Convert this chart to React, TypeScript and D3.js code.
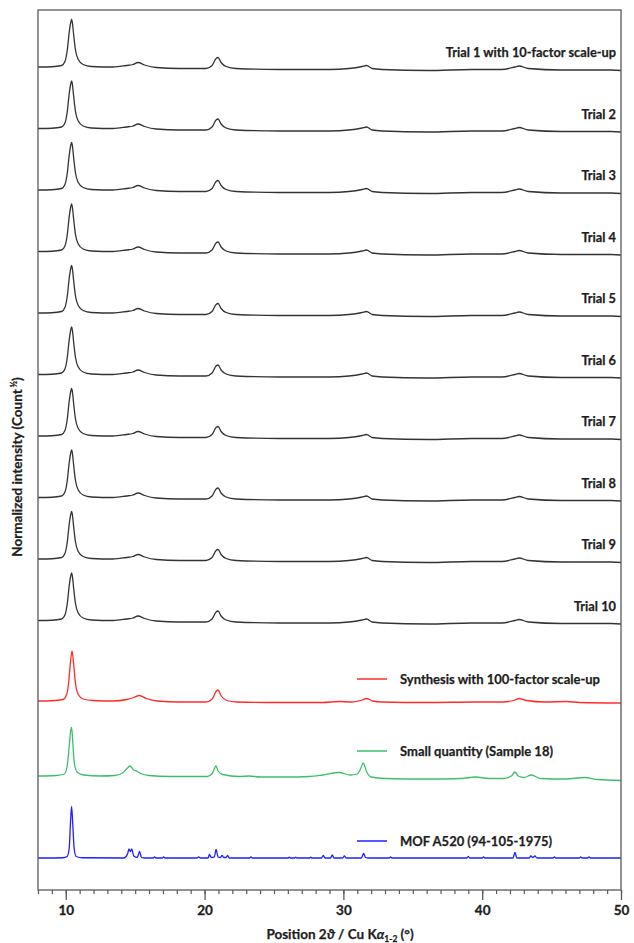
import { useEffect, useRef } from "react";
import * as d3 from "d3";

// ---- data (intensity in normalized units, 2θ in degrees) ----
const trialNames = [
  "Trial 1 with 10-factor scale-up",
  "Trial 2",
  "Trial 3",
  "Trial 4",
  "Trial 5",
  "Trial 6",
  "Trial 7",
  "Trial 8",
  "Trial 9",
  "Trial 10",
];
// stacking offsets of the ten trial patterns
const trialOffsets = [16.46, 15.23, 14.0, 12.77, 11.54, 10.31, 9.08, 7.85, 6.62, 5.39];

// the ten trial patterns are indistinguishable at this size
const trialTheta = [
  8.0, 9.0, 9.7, 9.94, 10.11, 10.25, 10.35, 10.42, 10.49, 10.56, 10.7, 10.9, 11.25, 11.85,
  13.4, 14.36, 14.84, 15.2, 15.68, 16.52, 18.2, 20.1, 20.54, 20.83, 20.97, 21.19, 21.55,
  22.26, 25.4, 29.0, 30.4, 31.35, 31.67, 32.07, 32.8, 36.1, 39.25, 41.4, 42.36, 42.65,
  43.32, 45.7, 49.3, 50.0,
];
const trialIntensity = [
  0, 0.005, 0.03, 0.11, 0.34, 0.7, 0.88, 0.95, 0.86, 0.67, 0.34, 0.15, 0.05, 0.01,
  0, 0.03, 0.05, 0.09, 0.04, -0.01, -0.03, -0.03, 0.03, 0.17, 0.19, 0.09, 0.01,
  -0.03, -0.05, -0.05, -0.03, 0.01, 0.03, -0.03, -0.05, -0.07, -0.05, -0.05, 0, 0.02,
  -0.03, -0.06, -0.06, -0.07,
];

// Synthesis with 100-factor scale-up (red)
const scaleUpTheta = [
  8.0, 9.0, 9.8, 10.05, 10.2, 10.32, 10.45, 10.58, 10.7, 10.9, 11.25, 12.0, 13.4, 14.4,
  14.9, 15.3, 15.8, 16.6, 18.2, 20.1, 20.55, 20.85, 20.97, 21.2, 21.6, 22.3, 25.4, 28.5,
  29.7, 30.6, 31.35, 31.67, 32.1, 32.8, 36.0, 39.5, 41.5, 42.35, 42.65, 43.2, 44.5, 46.05,
  47.0, 50.0,
];
const scaleUpIntensity = [
  0, 0.005, 0.03, 0.12, 0.35, 0.72, 1.0, 0.7, 0.35, 0.13, 0.04, 0.01, 0, 0.03,
  0.07, 0.11, 0.05, 0, -0.02, -0.02, 0.04, 0.2, 0.22, 0.1, 0.01, -0.02, -0.03, -0.03,
  -0.01, -0.02, 0.02, 0.05, 0, -0.02, -0.03, -0.02, -0.02, 0.02, 0.05, 0.01, -0.02, -0.01,
  -0.03, -0.04,
];

// Small quantity (Sample 18) (green)
const sampleTheta = [
  8.0, 9.3, 9.9, 10.1, 10.25, 10.35, 10.42, 10.5, 10.62, 10.85, 11.3, 12.5, 13.5, 14.1,
  14.45, 14.62, 14.9, 15.16, 15.4, 16.0, 17.5, 20.2, 20.55, 20.83, 20.97, 21.3, 22.5, 23.2,
  24.0, 26.0, 27.5, 28.5, 29.7, 30.5, 31.0, 31.25, 31.43, 31.65, 32.0, 33.0, 36.0, 38.5,
  39.5, 40.5, 41.5, 42.1, 42.36, 42.6, 43.0, 43.55, 44.2, 46.0, 47.4, 48.3, 50.0,
];
const sampleIntensity = [
  0, 0.01, 0.04, 0.2, 0.6, 0.9, 0.97, 0.7, 0.25, 0.07, 0.02, 0, 0.01, 0.06,
  0.16, 0.2, 0.12, 0.09, 0.05, 0.01, -0.01, -0.01, 0.05, 0.2, 0.1, 0.03, -0.01, 0,
  -0.02, -0.02, -0.01, 0.02, 0.07, 0.02, 0.04, 0.15, 0.26, 0.1, -0.02, -0.05, -0.06, -0.05,
  -0.02, -0.05, -0.05, 0, 0.08, 0, -0.03, 0.02, -0.05, -0.06, -0.03, -0.07, -0.09,
];

// MOF A520 (94-105-1975) reference pattern (blue)
const referenceTheta = [
  8.0, 9.8, 10.1, 10.25, 10.34, 10.42, 10.5, 10.6, 10.75, 11.2, 14.2, 14.45, 14.56, 14.65,
  14.75, 14.9, 15.15, 15.32, 15.45, 15.7, 16.3, 16.4, 16.5, 16.95, 17.05, 17.15, 19.45,
  19.58, 19.7, 20.25, 20.35, 20.48, 20.7, 20.83, 20.97, 21.15, 21.26, 21.38, 21.55, 21.66,
  21.78, 23.25, 23.34, 23.45, 26.0, 26.1, 26.2, 26.5, 26.57, 26.65, 27.55, 27.65, 27.75,
  28.42, 28.55, 28.68, 29.08, 29.2, 29.32, 29.95, 30.07, 30.2, 31.3, 31.45, 31.6, 31.8,
  33.3, 33.4, 33.5, 38.9, 39.0, 39.1, 40.0, 40.1, 40.2, 42.22, 42.36, 42.5, 43.4, 43.5,
  43.65, 43.8, 43.95, 45.1, 45.2, 45.3, 47.0, 47.1, 47.2, 47.6, 47.7, 47.8, 50.0,
];
const referenceIntensity = [
  0, 0.005, 0.03, 0.2, 0.7, 1.03, 0.7, 0.2, 0.03, 0.005, 0, 0.08, 0.18, 0.13,
  0.18, 0.04, 0.01, 0.13, 0.01, 0, 0, 0.02, 0, 0, 0.02, 0, 0,
  0.02, 0, 0, 0.07, 0.01, 0.02, 0.17, 0.02, 0.01, 0.05, 0.01, 0.01, 0.05,
  0, 0, 0.02, 0, 0, 0.015, 0, 0, 0.015, 0, 0, 0.015, 0,
  0, 0.05, 0, 0, 0.06, 0, 0, 0.04, 0, 0, 0.09, 0.01, 0,
  0, 0.02, 0, 0, 0.03, 0, 0, 0.02, 0, 0, 0.11, 0, 0, 0.04,
  0.01, 0.04, 0, 0, 0.02, 0, 0, 0.02, 0, 0, 0.02, 0, 0,
];

const legendNames = [
  "Synthesis with 100-factor scale-up",
  "Small quantity (Sample 18)",
  "MOF A520 (94-105-1975)",
];
const legendOffsets = [3.78, 2.28, 0.64];

const xMajorTicks = [10, 20, 30, 40, 50];

// ---- layout ----
const W = 634;
const H = 943;
const margin = { top: 10, right: 13, bottom: 53, left: 38 };
const FONT = "Lato, 'Open Sans', sans-serif";
const TEXT_COLOR = "#1e1e1e";
const AXIS_COLOR = "#5a5a5a";
const legendColors = ["#ff2b2b", "#3cbf6c", "#1f1fff"];
const legendTextY = [679, 751, 841];

const App = () => {
  const axisRef = useRef<SVGGElement | null>(null);

  const x = d3
    .scaleLinear()
    .domain([8, 50])
    .range([margin.left, W - margin.right]);
  const y = d3
    .scaleLinear()
    .domain([0, 17.6])
    .range([H - margin.bottom, margin.top]);

  const line = (theta: number[], vals: number[], offset: number) =>
    d3
      .line<number>()
      .x((_, i) => x(theta[i]))
      .y((d) => y(d + offset))
      .curve(d3.curveMonotoneX)(vals) || "";

  useEffect(() => {
    if (!axisRef.current) return;
    const g = d3.select(axisRef.current);
    g.selectAll("*").remove();

    // minor ticks every degree
    g.append("g")
      .attr("transform", `translate(0, ${H - margin.bottom})`)
      .call(
        d3
          .axisBottom(x)
          .tickValues(d3.range(8, 51, 1))
          .tickSize(4)
          .tickFormat(() => "")
      )
      .call((s) => s.select(".domain").remove())
      .selectAll("line")
      .attr("stroke", AXIS_COLOR)
      .attr("stroke-width", 1.2);

    // major ticks with labels
    const major = g
      .append("g")
      .attr("transform", `translate(0, ${H - margin.bottom})`)
      .call(
        d3
          .axisBottom(x)
          .tickValues(xMajorTicks)
          .tickSize(10)
          .tickPadding(5)
          .tickFormat(d3.format("d"))
      );
    major.select(".domain").remove();
    major.selectAll("line").attr("stroke", AXIS_COLOR).attr("stroke-width", 1.3);
    major
      .selectAll("text")
      .attr("fill", TEXT_COLOR)
      .attr("stroke", TEXT_COLOR)
      .attr("stroke-width", 0.3)
      .style("font-family", FONT)
      .style("font-weight", "bold")
      .style("font-size", "13.5px");
  }, []);

  const textProps = {
    fontFamily: FONT,
    fontWeight: "bold",
    fill: TEXT_COLOR,
    stroke: TEXT_COLOR,
    strokeWidth: 0.25,
  };

  return (
    <svg
      width={W}
      height={H}
      style={{ position: "absolute", left: 0, top: 0, background: "#fff" }}
    >
      {/* black trial patterns */}
      {trialOffsets.map((off, i) => (
        <path
          key={trialNames[i]}
          d={line(trialTheta, trialIntensity, off)}
          fill="none"
          stroke="#333"
          strokeWidth={1.3}
        />
      ))}
      {trialNames.map((name, i) => (
        <text
          key={name}
          x={x(50) - 5}
          y={y(trialOffsets[i]) - 10}
          textAnchor="end"
          fontSize={12.8}
          {...textProps}
        >
          {name}
        </text>
      ))}

      {/* coloured patterns */}
      <path
        d={line(scaleUpTheta, scaleUpIntensity, legendOffsets[0])}
        fill="none"
        stroke={legendColors[0]}
        strokeWidth={1.3}
      />
      <path
        d={line(sampleTheta, sampleIntensity, legendOffsets[1])}
        fill="none"
        stroke={legendColors[1]}
        strokeWidth={1.3}
      />
      <path
        d={line(referenceTheta, referenceIntensity, legendOffsets[2])}
        fill="none"
        stroke={legendColors[2]}
        strokeWidth={1.3}
      />

      {/* legend entries */}
      {legendNames.map((name, i) => (
        <g key={name}>
          <line
            x1={357}
            x2={387}
            y1={legendTextY[i]}
            y2={legendTextY[i]}
            stroke={legendColors[i]}
            strokeWidth={1.5}
          />
          <text x={400} y={legendTextY[i] + 4.5} fontSize={13} {...textProps}>
            {name}
          </text>
        </g>
      ))}

      {/* frame */}
      <rect
        x={margin.left}
        y={margin.top}
        width={W - margin.left - margin.right}
        height={H - margin.top - margin.bottom}
        fill="none"
        stroke={AXIS_COLOR}
        strokeWidth={1.3}
      />
      <g ref={axisRef} />

      {/* axis titles */}
      <text x={340} y={939} textAnchor="middle" fontSize={13.5} {...textProps}>
        Position 2<tspan fontStyle="italic">ϑ</tspan> / Cu K
        <tspan fontStyle="italic">α</tspan>
        <tspan fontSize={8.5} dy={3}>
          1-2
        </tspan>
        <tspan dy={-3}> (°)</tspan>
      </text>
      <text
        transform={`translate(22, 467) rotate(-90)`}
        textAnchor="middle"
        fontSize={13.5}
        {...textProps}
      >
        Normalized intensity (Count
        <tspan fontSize={8.5} dy={-5}>
          {" "}½
        </tspan>
        <tspan dy={5}>)</tspan>
      </text>
    </svg>
  );
};

export default App;
